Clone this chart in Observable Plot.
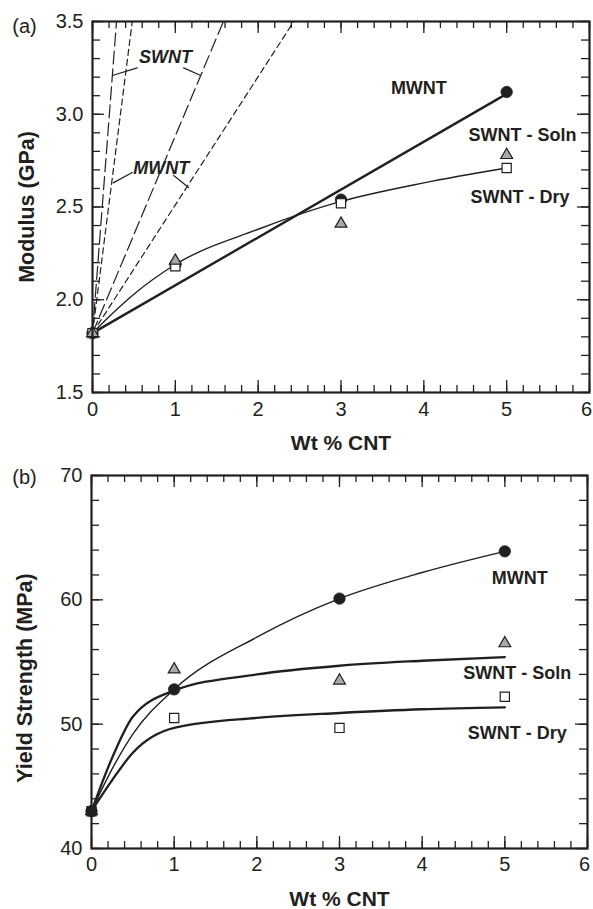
<!DOCTYPE html>
<html><head><meta charset="utf-8">
<script src="https://cdn.jsdelivr.net/npm/d3@7"></script>
<script src="https://cdn.jsdelivr.net/npm/@observablehq/plot@0.6"></script>
<style>
body{margin:0;background:#fff;}
#chart{width:593px;height:909px;}
#chart svg{display:block;}
</style></head><body><div id="chart"></div>
<script>
// ---------- Data ----------
const wt = [0, 1, 3, 5];

// (a) Modulus (GPa)
const modMWNT = [1.82, 2.19, 2.54, 3.12];
const modSoln = [1.82, 2.21, 2.41, 2.78];
const modDry  = [1.82, 2.18, 2.52, 2.71];
const modMWNTFitX = [0, 5];
const modMWNTFitY = [1.82, 3.11];
const modSWNTFitX = [0, 0.25, 0.5, 1, 2, 3, 4, 5];
const modSWNTFitY = [1.82, 1.93, 2.03, 2.19, 2.38, 2.53, 2.63, 2.71];
// theoretical predictions: lines from (0, 1.82) up to modulus 3.5
const theoryOrigin = [0, 1.82];
const swntTheoryTopX = [0.29, 1.58];   // long dash
const mwntTheoryTopX = [0.48, 2.43];   // short dash
const theoryTopY = 3.5;
// annotation labels (a)
const annoNames = ["SWNT", "MWNT"];
const annoX = [0.88, 0.83];
const annoY = [3.305, 2.71];
const swntLeaders = [[[0.25, 3.21], [0.54, 3.25]], [[1.10, 3.25], [1.30, 3.21]]];
const mwntLeaders = [[[0.25, 2.63], [0.48, 2.686]], [[0.98, 2.67], [1.16, 2.605]]];
const seriesNames = ["MWNT", "SWNT - Soln", "SWNT - Dry"];
const modLabelX = [3.94, 5.19, 5.16];
const modLabelY = [3.14, 2.885, 2.55];

// (b) Yield strength (MPa)
const ysMWNT = [43.0, 52.8, 60.1, 63.9];
const ysSoln = [43.0, 54.4, 53.5, 56.5];
const ysDry  = [43.0, 50.5, 49.7, 52.2];
const ysFitX = [0, 0.25, 0.5, 1, 2, 3, 4, 5];
const ysMWNTFit = [43.0, 46.4, 49.2, 52.8, 57.0, 60.1, 62.2, 63.9];
const ysSolnFit = [43.0, 47.3, 50.6, 52.7, 54.0, 54.7, 55.1, 55.4];
const ysDryFit  = [43.0, 45.5, 47.7, 49.7, 50.5, 50.9, 51.2, 51.35];
const ysLabelX = [5.18, 5.15, 5.15];
const ysLabelY = [61.7, 54.1, 49.3];

// axes
const xMajor = [0, 1, 2, 3, 4, 5, 6];
const xLabels = [0, 1, 2, 3, 4, 5];
const xLastLabel = [6];
const xMinor = d3.range(0, 6.0001, 0.2);
const modMajor = [1.5, 2.0, 2.5, 3.0, 3.5];
const modMinor = d3.range(1.5, 3.5001, 0.1);
const ysMajor = [40, 50, 60, 70];
const ysMinor = d3.range(40, 70.001, 2);

// ---------- Helpers ----------
const INK = "#231f20";
const FONT = "'Liberation Sans', Arial, Helvetica, sans-serif";
const pts = (xs, ys) => xs.map((x, i) => ({x, y: ys[i]}));
const centered = {textAnchor: "middle", lineAnchor: "middle"};

function frameTicks(H) {
  const maj = 12, mnr = 7, sw = 1.3;
  const o = {stroke: INK, strokeWidth: sw};
  return [
    Plot.tickX(xMinor, {x: d => d, insetTop: H - mnr, ...o}),
    Plot.tickX(xMinor, {x: d => d, insetBottom: H - mnr, ...o}),
    Plot.tickX(xMajor, {x: d => d, insetTop: H - maj, ...o}),
    Plot.tickX(xMajor, {x: d => d, insetBottom: H - maj, ...o})
  ];
}
function yTicks(minor, major, W) {
  const maj = 12, mnr = 8, sw = 1.3;
  const o = {stroke: INK, strokeWidth: sw};
  return [
    Plot.tickY(minor, {y: d => d, insetRight: W - mnr, ...o}),
    Plot.tickY(minor, {y: d => d, insetLeft: W - mnr, ...o}),
    Plot.tickY(major, {y: d => d, insetRight: W - maj, ...o}),
    Plot.tickY(major, {y: d => d, insetLeft: W - maj, ...o})
  ];
}
function xAxisLabels(pad) {
  const o = {tickSize: 0, tickPadding: pad, tickFormat: "d", fontSize: 20, label: null, fill: INK};
  return [
    Plot.axisX({ticks: xLabels, ...o}),
    Plot.axisX({ticks: xLastLabel, dx: -3, ...o})
  ];
}
function markers(mw, so, dr, order) {
  const circ = Plot.dot(pts(wt, mw), {x: "x", y: "y", r: 5.7, fill: INK, stroke: INK, strokeWidth: 0.8});
  const tri = Plot.dot(pts(wt, so), {x: "x", y: "y", symbol: "triangle", r: 4.4, fill: "#a7a9ac", stroke: INK, strokeWidth: 1.2});
  const sq = Plot.dot(pts(wt, dr), {x: "x", y: "y", symbol: "square", r: 5.2, fill: "white", stroke: INK, strokeWidth: 1.2});
  return order === "a" ? [circ, sq, tri] : [sq, tri, circ];
}

// ---------- Panel (a) ----------
const A = {w: 593, h: 455, ml: 92, mr: 4, mt: 21, mb: 63};
const AH = A.h - A.mt - A.mb, AW = A.w - A.ml - A.mr;
const theoryLines = [
  ...swntTheoryTopX.map(tx => ({dash: "13,5", pts: [{x: theoryOrigin[0], y: theoryOrigin[1]}, {x: tx, y: theoryTopY}]})),
  ...mwntTheoryTopX.map(tx => ({dash: "6,4", pts: [{x: theoryOrigin[0], y: theoryOrigin[1]}, {x: tx, y: theoryTopY}]}))
];
const leaderRows = [...swntLeaders, ...mwntLeaders].flatMap((seg, i) => seg.map(([x, y]) => ({x, y, k: i})));

const plotA = Plot.plot({
  width: A.w, height: A.h,
  marginLeft: A.ml, marginRight: A.mr, marginTop: A.mt, marginBottom: A.mb,
  style: {fontFamily: FONT, color: INK, background: "white"},
  x: {domain: [0, 6]},
  y: {domain: [1.5, 3.5]},
  marks: [
    ...theoryLines.map(t => Plot.line(t.pts, {x: "x", y: "y", stroke: INK, strokeWidth: 1.2, strokeDasharray: t.dash})),
    Plot.line(leaderRows, {x: "x", y: "y", z: "k", stroke: INK, strokeWidth: 1.2}),
    Plot.text(annoNames, {x: (d, i) => annoX[i], y: (d, i) => annoY[i], text: d => d, fontSize: 18, fontWeight: "bold", fontStyle: "italic", fill: INK}),
    Plot.line(pts(modSWNTFitX, modSWNTFitY), {x: "x", y: "y", curve: "monotone-x", stroke: INK, strokeWidth: 1.4}),
    Plot.line(pts(modMWNTFitX, modMWNTFitY), {x: "x", y: "y", stroke: INK, strokeWidth: 2.4}),
    ...markers(modMWNT, modSoln, modDry, "a"),
    Plot.text(seriesNames, {x: (d, i) => modLabelX[i], y: (d, i) => modLabelY[i], text: d => d, fontSize: 18, fontWeight: "bold", fill: INK}),
    ...frameTicks(AH),
    ...yTicks(modMinor, modMajor, AW),
    Plot.frame({stroke: INK, strokeWidth: 2.2}),
    ...xAxisLabels(9),
    Plot.axisY({ticks: modMajor, tickSize: 0, tickPadding: 9, tickFormat: ".1f", fontSize: 20, label: null, fill: INK}),
    Plot.text(["Wt % CNT"], {frameAnchor: "bottom", dy: 51, ...centered, text: d => d, fontSize: 21, fontWeight: "bold", fill: INK}),
    Plot.text(["Modulus (GPa)"], {frameAnchor: "left", dx: -65, rotate: -90, ...centered, text: d => d, fontSize: 21.5, fontWeight: "bold", fill: INK}),
    Plot.text(["(a)"], {frameAnchor: "top-left", dx: -68, dy: 5, ...centered, text: d => d, fontSize: 20, fill: INK})
  ]
});

// ---------- Panel (b) ----------
const B = {w: 593, h: 454, ml: 91, mr: 6, mt: 20, mb: 61};
const BH = B.h - B.mt - B.mb, BW = B.w - B.ml - B.mr;
const plotB = Plot.plot({
  width: B.w, height: B.h,
  marginLeft: B.ml, marginRight: B.mr, marginTop: B.mt, marginBottom: B.mb,
  style: {fontFamily: FONT, color: INK, background: "white"},
  x: {domain: [0, 6]},
  y: {domain: [40, 70]},
  marks: [
    Plot.line(pts(ysFitX, ysMWNTFit), {x: "x", y: "y", curve: "monotone-x", stroke: INK, strokeWidth: 1.4}),
    Plot.line(pts(ysFitX, ysSolnFit), {x: "x", y: "y", curve: "monotone-x", stroke: INK, strokeWidth: 2.3}),
    Plot.line(pts(ysFitX, ysDryFit), {x: "x", y: "y", curve: "monotone-x", stroke: INK, strokeWidth: 2.3}),
    ...markers(ysMWNT, ysSoln, ysDry, "b"),
    Plot.text(seriesNames, {x: (d, i) => ysLabelX[i], y: (d, i) => ysLabelY[i], text: d => d, fontSize: 18, fontWeight: "bold", fill: INK}),
    ...frameTicks(BH),
    ...yTicks(ysMinor, ysMajor, BW),
    Plot.frame({stroke: INK, strokeWidth: 2.2}),
    ...xAxisLabels(8),
    Plot.axisY({ticks: ysMajor, tickSize: 0, tickPadding: 9, tickFormat: "d", fontSize: 20, label: null, fill: INK}),
    Plot.text(["Wt % CNT"], {frameAnchor: "bottom", dy: 51, ...centered, text: d => d, fontSize: 21, fontWeight: "bold", fill: INK}),
    Plot.text(["Yield Strength (MPa)"], {frameAnchor: "left", dx: -66, dy: 16, rotate: -90, ...centered, text: d => d, fontSize: 21.5, fontWeight: "bold", fill: INK}),
    Plot.text(["(b)"], {frameAnchor: "top-left", dx: -67, dy: 2, ...centered, text: d => d, fontSize: 20, fill: INK})
  ]
});

const root = document.getElementById("chart");
root.appendChild(plotA);
root.appendChild(plotB);
</script>
</body></html>
